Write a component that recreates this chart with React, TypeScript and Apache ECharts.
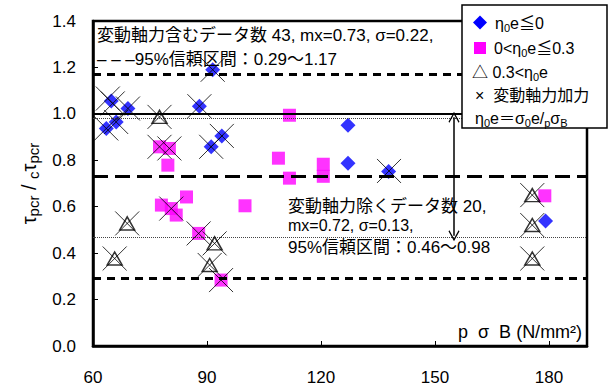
import React, { useEffect, useRef } from 'react';
import * as echarts from 'echarts';

const xRange = [60, 190];
const xInterval = 30;
const yRange = [0, 1.4];
const yInterval = 0.2;

// η0e ≦ 0 (blue diamonds)
const blueEta: [number, number][] = [
  [91.5, 1.19], [64.8, 1.055], [69.2, 1.023], [63.5, 0.937], [66.1, 0.965],
  [88.0, 1.033], [91.1, 0.858], [93.9, 0.905], [127.1, 0.951], [127.1, 0.787],
  [137.8, 0.752], [179.1, 0.538],
];
// 0 < η0e ≦ 0.3 (magenta squares)
const magentaEta: [number, number][] = [
  [77.5, 0.858], [80.1, 0.851], [79.7, 0.779], [84.6, 0.642], [78.0, 0.607],
  [80.6, 0.592], [81.9, 0.564], [100.0, 0.604], [87.8, 0.485], [93.7, 0.284],
  [111.7, 0.994], [108.8, 0.809], [111.7, 0.723], [120.6, 0.783], [120.6, 0.731],
  [178.9, 0.647],
];
// 0.3 < η0e (triangles)
const triangleEta: [number, number][] = [
  [77.5, 0.987], [69.0, 0.528], [65.7, 0.377], [92.0, 0.442], [90.7, 0.349],
  [175.6, 0.65], [175.6, 0.521], [175.6, 0.377],
];
// 変動軸力加力 (crosses)
const varyingAxial: [number, number][] = [
  [91.5, 1.19], [63.9, 1.066], [65.2, 1.045], [69.2, 1.023], [63.5, 0.937],
  [66.1, 0.965], [88.0, 1.033], [91.1, 0.858], [93.9, 0.905], [137.9, 0.754],
  [77.5, 0.858], [80.1, 0.851], [80.6, 0.592], [87.8, 0.485], [93.7, 0.284],
  [77.5, 0.987], [69.0, 0.528], [65.7, 0.377], [92.0, 0.442], [90.7, 0.349],
  [175.6, 0.65], [175.6, 0.521], [175.6, 0.377],
];

const meanAll = 0.735;
const ciAll = [0.29, 1.17];
const unityLine = 1.0;
const ciExcl = [0.475, 0.985];
const arrowX = 155;

const FONT = "'Liberation Sans', 'Noto Sans CJK JP', sans-serif";
const BLUE = '#0000ff';
const MAGENTA = '#ff00ff';

const subRich = {
  n: { fontSize: 16, fontFamily: FONT, color: '#000', lineHeight: 20 },
  sub: { fontSize: 11, fontFamily: FONT, color: '#000', lineHeight: 13, verticalAlign: 'bottom' },
};

function txt(x: number, y: number, text: string, size = 17, extra: any = {}) {
  return {
    type: 'text',
    z: 20,
    style: {
      x, y, text,
      fill: '#000',
      fontFamily: FONT,
      fontSize: size,
      verticalAlign: 'middle',
      ...extra,
    },
  };
}

export default function App() {
  const ref = useRef<HTMLDivElement>(null);
  useEffect(() => {
    const chart = echarts.init(ref.current!, null, { renderer: 'svg' });
    const option: any = {
      animation: false,
      backgroundColor: '#fff',
      grid: { left: 93, right: 29, top: 21, bottom: 43, show: true, borderColor: '#000', borderWidth: 2.5 },
      xAxis: {
        type: 'value', min: xRange[0], max: xRange[1], interval: xInterval,
        axisLine: { lineStyle: { color: '#000', width: 2.5 } },
        axisTick: { inside: true, length: 5, lineStyle: { color: '#000', width: 1 } },
        axisLabel: { color: '#000', fontSize: 17, fontFamily: FONT, margin: 23, showMaxLabel: false },
        splitLine: { show: false },
      },
      yAxis: {
        type: 'value', min: yRange[0], max: yRange[1], interval: yInterval,
        axisLine: { show: true, lineStyle: { color: '#000', width: 2.5 } },
        axisTick: { show: true, inside: true, length: 5, lineStyle: { color: '#000', width: 1 } },
        axisLabel: { color: '#000', fontSize: 17, fontFamily: FONT, margin: 17, formatter: (v: number) => v.toFixed(1) },
        splitLine: { show: false },
        name: '{t|τ}{s|pcr}{t| / }{s|c}{t|τ}{s|pcr}',
        nameLocation: 'middle',
        nameRotate: 90,
        nameGap: 42,
        nameTextStyle: {
          rich: {
            t: { fontSize: 20, fontFamily: FONT, color: '#000', lineHeight: 24 },
            s: { fontSize: 15, fontFamily: FONT, color: '#000', lineHeight: 15, verticalAlign: 'bottom' },
          },
        },
      },
      series: [
        {
          type: 'line', data: [], silent: true,
          markLine: {
            silent: true, symbol: 'none', label: { show: false },
            data: [
              { yAxis: ciAll[1], lineStyle: { type: [8, 6], width: 3, color: '#000' } },
              { yAxis: ciAll[0], lineStyle: { type: [8, 6], width: 3, color: '#000' } },
              { yAxis: meanAll, lineStyle: { type: [15, 7], width: 3, color: '#000' } },
              { yAxis: unityLine, lineStyle: { type: 'solid', width: 2, color: '#000' } },
              { yAxis: ciExcl[1], lineStyle: { type: [1, 1], width: 1, color: '#444' } },
              { yAxis: ciExcl[0], lineStyle: { type: [1, 1], width: 1, color: '#444' } },
            ],
          },
        },
        {
          type: 'line', data: [], silent: true,
          markLine: {
            silent: true,
            symbol: ['path://M0,0L6,9L5,10L0,2.4L-5,10L-6,9Z', 'path://M0,0L6,9L5,10L0,2.4L-5,10L-6,9Z'],
            symbolSize: [11, 11],
            label: { show: false },
            lineStyle: { type: 'solid', width: 1.5, color: '#000' },
            data: [[{ coord: [arrowX, ciExcl[1]] }, { coord: [arrowX, ciExcl[0]] }]],
          },
        },
        {
          name: 'magenta', type: 'scatter', data: magentaEta, symbol: 'rect', symbolSize: 13,
          itemStyle: { color: MAGENTA }, z: 3,
        },
        {
          name: 'blue', type: 'scatter', data: blueEta, symbol: 'diamond', symbolSize: 15,
          itemStyle: { color: BLUE }, z: 4,
        },
        {
          name: 'triangle', type: 'scatter', data: triangleEta, symbol: 'triangle', symbolSize: [15, 13],
          itemStyle: { color: 'transparent', borderColor: '#000', borderWidth: 1.5 }, z: 5,
        },
        {
          name: 'cross', type: 'scatter', data: varyingAxial, symbol: 'path://M0,0L24,24M24,0L0,24', symbolSize: 24,
          itemStyle: { color: 'transparent', borderColor: '#000', borderWidth: 1 }, z: 6,
        },
      ],
      graphic: [
        txt(97, 35, '変動軸力含むデータ数 43, mx=0.73, σ=0.22,'),
        txt(97, 59, '– – –95%信頼区間：0.29～1.17'),
        txt(288, 206, '変動軸力除くデータ数 20,'),
        txt(288, 225, 'mx=0.72, σ=0.13,', 16),
        txt(288, 247, '95%信頼区間：0.46～0.98'),
        txt(458, 332, 'p  σ  B (N/mm²)', 18),
        {
          type: 'rect', z: 15,
          shape: { x: 462, y: 5, width: 145, height: 123 },
          style: { fill: '#fff', stroke: '#000', lineWidth: 1.5 },
        },
        {
          type: 'polygon', z: 20,
          shape: { points: [[480, 15.5], [487, 22.5], [480, 29.5], [473, 22.5]] },
          style: { fill: BLUE },
        },
        {
          type: 'rect', z: 20,
          shape: { x: 474, y: 42, width: 12, height: 12 },
          style: { fill: MAGENTA },
        },
        txt(495, 23, '{n|η}{sub|0}{n|e≦0}', 16, { rich: subRich }),
        txt(494, 48, '{n|0<η}{sub|0}{n|e≦0.3}', 16, { rich: subRich }),
        txt(472, 72, '{n|△ 0.3<η}{sub|0}{n|e}', 16, { rich: subRich }),
        txt(475, 95, '{n|×  変動軸力加力}', 16, { rich: subRich }),
        txt(475, 118, '{n|η}{sub|0}{n|e＝σ}{sub|0}{n|e/}{sub|p}{n|σ}{sub|B}', 16, { rich: subRich }),
      ],
    };
    chart.setOption(option);
    return () => chart.dispose();
  }, []);
  return <div ref={ref} style={{ position: 'fixed', left: 0, top: 0, width: 616, height: 389, background: '#fff' }} />;
}
